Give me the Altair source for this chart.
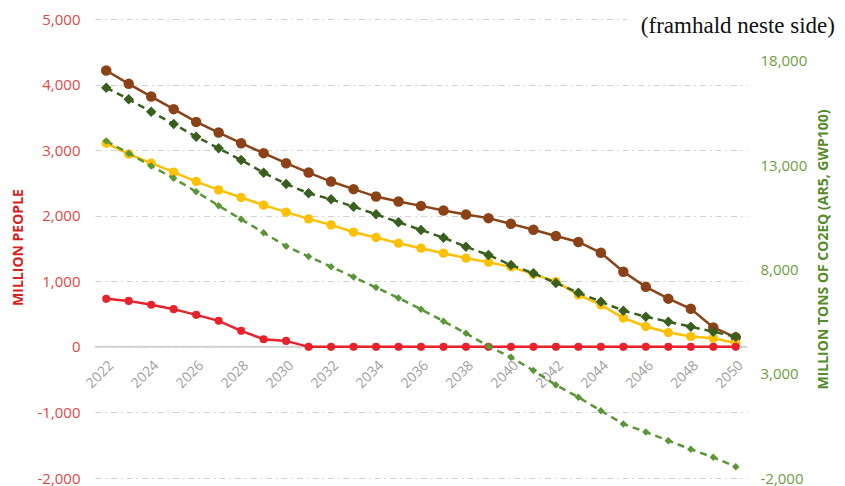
import altair as alt
import pandas as pd

years = list(range(2022, 2051))
label_years = list(range(2022, 2051, 2))

# Left axis (million people) series
brown = [4214, 4011, 3817, 3625, 3431, 3268, 3106, 2954, 2801, 2658,
         2521, 2405, 2292, 2216, 2150, 2079, 2018, 1963, 1876, 1785,
         1690, 1600, 1435, 1145, 915, 735, 580, 295, 145]
yellow = [3106, 2939, 2801, 2664, 2521, 2394, 2277, 2161, 2054, 1952,
          1861, 1749, 1667, 1581, 1505, 1429, 1353, 1290, 1220, 1110,
          995, 793, 641, 440, 310, 218, 157, 133, 56]
red = [732, 701, 641, 575, 488, 397, 244, 117, 91, 0,
       0, 0, 0, 0, 0, 0, 0, 0, 0, 0,
       0, 0, 0, 0, 0, 0, 0, 0, 0]

# Right axis (million tons CO2eq) series
dark_green = [16707, 16151, 15557, 14967, 14359, 13802, 13242, 12633, 12091, 11646,
              11358, 11004, 10639, 10256, 9887, 9518, 9086, 8688, 8209, 7811,
              7346, 6881, 6450, 6019, 5731, 5491, 5252, 5012, 4772]
light_green = [14152, 13563, 12954, 12364, 11723, 11052, 10399, 9757, 9105, 8617,
               8128, 7634, 7131, 6627, 6086, 5515, 4935, 4317, 3785, 3152,
               2457, 1868, 1226, 588, 205, -212, -624, -1008, -1458]

left_ticks = list(range(-2000, 5001, 1000))
right_ticks = [-2000, 3000, 8000, 13000, 18000]
note = "(framhald neste side)"

left_names = ["brown", "yellow", "red"]
left_colors = ["#8B4216", "#FFC000", "#E8212B"]
left_sizes = [110, 65, 65]
right_names = ["dark_green", "light_green"]
right_colors = ["#385F1E", "#5A9536"]
right_sizes = [110, 55]

df_left = pd.DataFrame({
    "year": years * 3,
    "value": brown + yellow + red,
    "series": ["brown"] * 29 + ["yellow"] * 29 + ["red"] * 29,
})
df_right = pd.DataFrame({
    "year": years * 2,
    "value": dark_green + light_green,
    "series": ["dark_green"] * 29 + ["light_green"] * 29,
})

FONT = "Open Sans"
NUM_LABEL = "replace(format(datum.value, ',d'), '\u2212', '-')"

x_enc = alt.X(
    "year:Q",
    scale=alt.Scale(domain=[2021.5, 2050.5], nice=False, zero=False),
    axis=alt.Axis(values=label_years, format="d", labelAngle=-45, offset=-131,
                  domain=False, ticks=False, grid=False, labelColor="#A0A0A0",
                  labelFontSize=14, labelFont=FONT, title=None, labelPadding=11),
)

y_left = alt.Y(
    "value:Q",
    scale=alt.Scale(domain=[-2000, 5000], nice=False),
    axis=alt.Axis(values=left_ticks, labelExpr=NUM_LABEL, grid=True, gridDash=[6, 4, 1.5, 4],
                  gridColor="#D0D0D0", gridWidth=1, domain=False, ticks=False,
                  labelColor="#E04848", labelFontSize=15, labelFont=FONT, labelPadding=15,
                  title="MILLION PEOPLE", titleColor="#D81E1E", titleFontSize=14,
                  titleFont=FONT, titleFontWeight="bold", titleAngle=270,
                  titleX=-77, titleY=228, titleBaseline="middle", titleAlign="center"),
)

y_right = alt.Y(
    "value:Q",
    scale=alt.Scale(domain=[-2000, 20000], nice=False),
    axis=alt.Axis(orient="right", values=right_ticks, labelExpr=NUM_LABEL, grid=False,
                  domain=False, ticks=False, labelColor="#6E9E42", labelFontSize=15,
                  labelFont=FONT, labelPadding=13,
                  title="MILLION TONS OF CO2EQ (AR5, GWP100)", titleColor="#558B2A",
                  titleFontSize=14, titleFont=FONT, titleFontWeight="bold",
                  titleAngle=270, titleX=76, titleY=230, titleBaseline="middle",
                  titleAlign="center"),
)

color_left = alt.Color("series:N", scale=alt.Scale(domain=left_names, range=left_colors), legend=None)
size_left = alt.Size("series:N", scale=alt.Scale(domain=left_names, range=left_sizes), legend=None)
color_right = alt.Color("series:N", scale=alt.Scale(domain=right_names, range=right_colors), legend=None)
size_right = alt.Size("series:N", scale=alt.Scale(domain=right_names, range=right_sizes), legend=None)

zero_rule = alt.Chart(pd.DataFrame({"value": [0]})).mark_rule(
    color="#D3D3D3", strokeWidth=2).encode(y=alt.Y("value:Q"))

left_lines = alt.Chart(df_left).mark_line(strokeWidth=2.5).encode(
    x=x_enc, y=y_left, color=color_left)
left_points = alt.Chart(df_left).mark_point(filled=True, opacity=1, shape="circle").encode(
    x="year:Q", y="value:Q", color=color_left, size=size_left)

note_df = pd.DataFrame({"label": [note]})
note_bg = alt.Chart(note_df).mark_rect(color="white").encode(
    x=alt.value(532), x2=alt.value(652), y=alt.value(-8), y2=alt.value(18))
note_text = alt.Chart(note_df).mark_text(
    align="right", baseline="middle", font="Liberation Serif", fontSize=23,
    color="#111111").encode(text="label:N", x=alt.value(740), y=alt.value(7))

left_layer = alt.layer(zero_rule, left_lines, left_points, note_bg, note_text)

right_lines = alt.Chart(df_right).mark_line(strokeWidth=2.5, strokeDash=[7, 5]).encode(
    x="year:Q", y=y_right, color=color_right)
right_points = alt.Chart(df_right).mark_point(filled=True, opacity=1, shape="diamond").encode(
    x="year:Q", y="value:Q", color=color_right, size=size_right)
right_layer = alt.layer(right_lines, right_points)

chart = alt.layer(left_layer, right_layer).resolve_scale(
    y="independent", color="independent", size="independent"
).properties(
    width=652, height=459,
    autosize=alt.AutoSizeParams(type="none"),
    padding={"left": 87, "top": 11, "right": 90, "bottom": 8},
).configure_view(stroke=None)

chart.save("out.html", embed_options={"renderer": "svg", "actions": False})
